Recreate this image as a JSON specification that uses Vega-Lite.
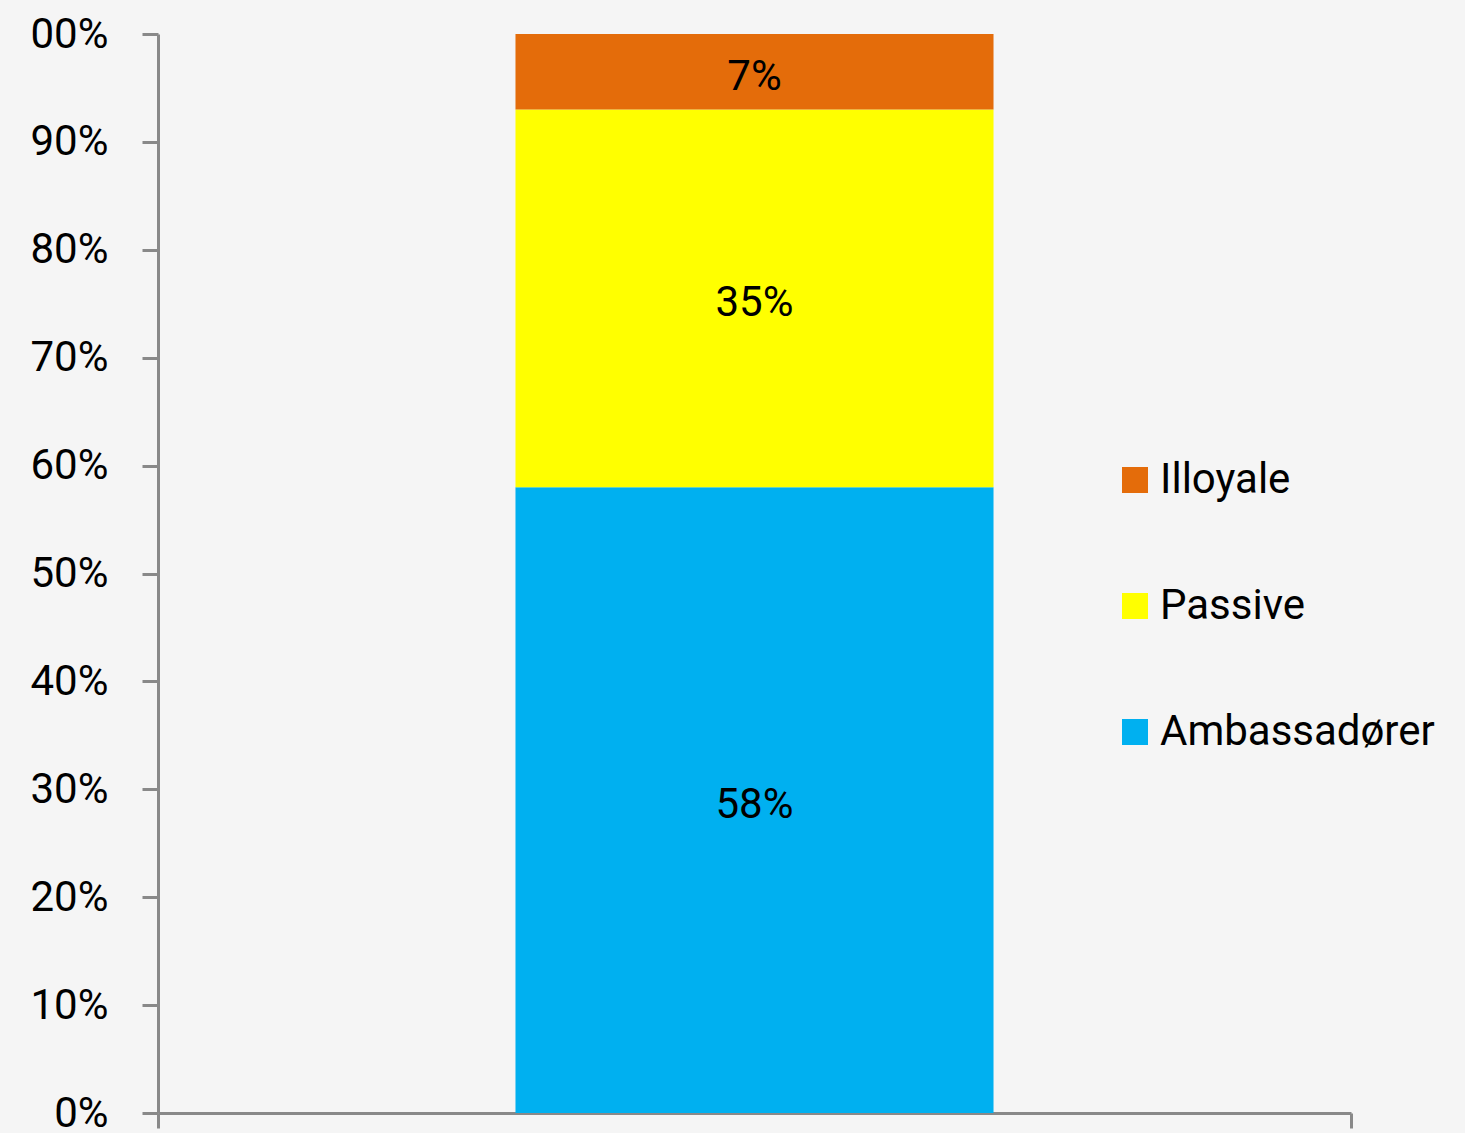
{
  "$schema": "https://vega.github.io/schema/vega-lite/v6.json",
  "width": 1193,
  "height": 1079,
  "autosize": {"type": "none"},
  "padding": {"left": 158, "top": 34, "right": 114, "bottom": 20},
  "background": "#f5f5f5",
  "config": {"view": {"stroke": null}, "font": "Roboto"},
  "data": {
    "values": [
      {"group": "Alle", "segment": "Ambassadører", "value": 0.58, "rank": 1},
      {"group": "Alle", "segment": "Passive", "value": 0.35, "rank": 2},
      {"group": "Alle", "segment": "Illoyale", "value": 0.07, "rank": 3}
    ]
  },
  "transform": [
    {"stack": "value", "groupby": ["group"], "sort": [{"field": "rank", "order": "ascending"}], "as": ["v0", "v1"]},
    {"calculate": "(datum.v0 + datum.v1) / 2", "as": "mid"}
  ],
  "encoding": {
    "x": {
      "field": "group",
      "type": "nominal",
      "scale": {"paddingInner": 0, "paddingOuter": 0},
      "axis": {
        "title": null,
        "labels": false,
        "domainColor": "#898989",
        "domainWidth": 3,
        "tickColor": "#898989",
        "tickWidth": 3,
        "tickSize": 15,
        "tickBand": "extent"
      }
    }
  },
  "layer": [
    {
      "mark": {"type": "bar", "width": {"band": 0.4007}},
      "encoding": {
        "y": {
          "field": "v0",
          "type": "quantitative",
          "scale": {"domain": [0, 1], "nice": false},
          "axis": {
            "title": null,
            "format": ".0%",
            "values": [0, 0.1, 0.2, 0.3, 0.4, 0.5, 0.6, 0.7, 0.8, 0.9, 1],
            "labelExpr": "datum.value == 1 ? '00%' : datum.label",
            "grid": false,
            "domainColor": "#898989",
            "domainWidth": 3,
            "tickColor": "#898989",
            "tickWidth": 3,
            "tickSize": 16,
            "labelFontSize": 42,
            "labelColor": "#000000",
            "labelPadding": 34,
            "labelFont": "Roboto",
            "labelBaseline": "middle"
          }
        },
        "y2": {"field": "v1"},
        "color": {
          "field": "segment",
          "type": "nominal",
          "scale": {
            "domain": ["Illoyale", "Passive", "Ambassadører"],
            "range": ["#E46C0A", "#FFFF00", "#00B0F0"]
          },
          "legend": {
            "title": null,
            "orient": "none",
            "legendX": 956,
            "legendY": 425,
            "padding": 0,
            "symbolType": "square",
            "symbolSize": 676,
            "symbolStrokeWidth": 0,
            "labelFontSize": 42,
            "labelFont": "Roboto",
            "labelColor": "#000000",
            "labelOffset": 4,
            "labelLimit": 0,
            "rowPadding": 84
          }
        }
      }
    },
    {
      "mark": {"type": "text", "fontSize": 42, "color": "#000000", "baseline": "middle", "align": "center", "font": "Roboto", "dy": 5},
      "encoding": {
        "y": {"field": "mid", "type": "quantitative"},
        "text": {"field": "value", "type": "quantitative", "format": ".0%"}
      }
    }
  ]
}
